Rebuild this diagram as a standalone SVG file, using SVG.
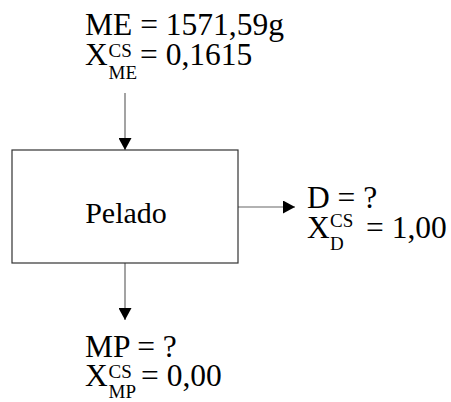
<svg xmlns="http://www.w3.org/2000/svg" width="451" height="402" viewBox="0 0 451 402">
  <style>
    text { font-family: "Liberation Serif", "Times New Roman", serif; fill: #000; }
    .lbl { font-size: 31.5px; }
    .idx { font-size: 19px; }
    .box { fill: #fff; stroke: #333; stroke-width: 1.2; }
    .flow { stroke: #666; stroke-width: 1.2; fill: none; marker-end: url(#head); }
  </style>
  <defs>
    <marker id="head" viewBox="0 0 12 13" refX="12" refY="6.5" markerWidth="12" markerHeight="13" markerUnits="userSpaceOnUse" orient="auto">
      <path d="M0,0 L12,6.5 L0,13 z" fill="#000"/>
    </marker>
  </defs>

  <!-- material flows -->
  <g id="connectors">
    <line class="flow" x1="125" y1="93" x2="125" y2="150"/>
    <line class="flow" x1="238" y1="207" x2="295" y2="207"/>
    <line class="flow" x1="125" y1="263" x2="125" y2="320"/>
  </g>

  <!-- unit operation -->
  <g id="pelado">
    <rect class="box" x="12" y="150" width="226" height="113"/>
    <text x="126" y="223" font-size="30" text-anchor="middle">Pelado</text>
  </g>

  <!-- feed stream -->
  <g id="entrada-me">
    <text class="lbl" x="85" y="35">ME = 1571,59g</text>
    <text class="lbl" x="85" y="65">X</text>
    <text class="idx" x="108.5" y="57">CS</text>
    <text class="idx" x="108.5" y="79">ME</text>
    <text class="lbl" x="140" y="65">= 0,1615</text>
  </g>

  <!-- peel stream -->
  <g id="salida-d">
    <text class="lbl" x="307" y="208">D = ?</text>
    <text class="lbl" x="307" y="238">X</text>
    <text class="idx" x="330" y="227">CS</text>
    <text class="idx" x="330" y="250">D</text>
    <text class="lbl" x="366" y="238">= 1,00</text>
  </g>

  <!-- peeled product stream -->
  <g id="salida-mp">
    <text class="lbl" x="85" y="357">MP = ?</text>
    <text class="lbl" x="85" y="386">X</text>
    <text class="idx" x="108.5" y="378">CS</text>
    <text class="idx" x="108.5" y="398">MP</text>
    <text class="lbl" x="141" y="386">= 0,00</text>
  </g>
</svg>
